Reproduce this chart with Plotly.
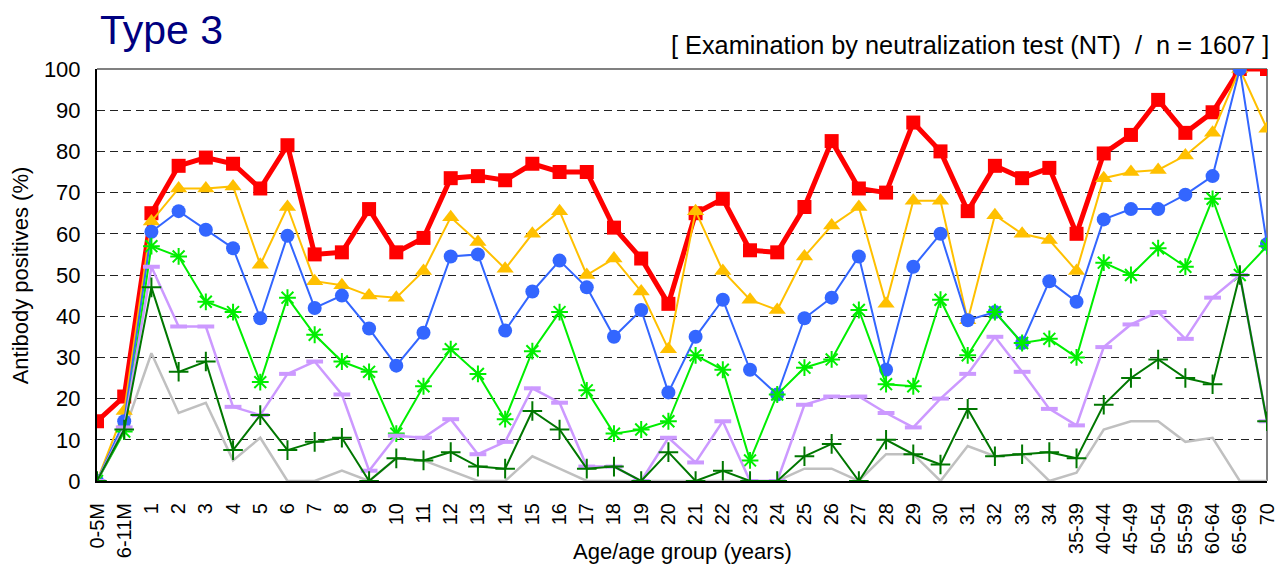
import plotly.graph_objects as go

categories = ["0-5M", "6-11M"] + [str(i) for i in range(1, 35)] + [
    "35-39", "40-44", "45-49", "50-54", "55-59", "60-64", "65-69", "70"]

red = [14.5, 20.5, 65, 76.5, 78.5, 77, 71, 81.5, 55, 55.5, 66, 55.5, 59, 73.5, 74, 73,
       77, 75, 75, 61.5, 54, 43, 65, 68.5, 56, 55.5, 66.5, 82.5, 71, 70, 87, 80, 65.5,
       76.5, 73.5, 76, 60, 79.5, 84, 92.5, 84.5, 89.5, 100, 100]
yellow = [0, 17, 63, 71, 71, 71.5, 52.5, 66.5, 48.5, 47.5, 45, 44.5, 51, 64, 58, 51.5,
          60, 65.5, 50, 54, 46, 32, 65.5, 51, 44, 41.5, 54.5, 62, 66.5, 43, 68, 68, 39,
          64.5, 60, 58.5, 51, 73.5, 75, 75.5, 79, 84.5, 100, 85.5]
blue = [0, 14.5, 60.5, 65.5, 61, 56.5, 39.5, 59.5, 42, 45, 37, 28, 36, 54.5, 55, 36.5,
        46, 53.5, 47, 35, 41.5, 21.5, 35, 44, 27, 21, 39.5, 44.5, 54.5, 27, 52, 60, 39,
        41, 33.5, 48.5, 43.5, 63.5, 66, 66, 69.5, 74, 100, 57.5]
green = [0, 12, 57, 54.5, 43.5, 41, 24, 44.5, 35.5, 29, 26.5, 11.5, 23, 32, 26, 15,
         31.5, 41, 22, 11.5, 12.5, 14.5, 30.5, 27, 5, 21, 27.5, 29.5, 41.5, 23.5, 23, 44,
         30.5, 41, 33.5, 34.5, 30, 53, 50, 56.5, 52, 68.5, 50, 57]
purple = [0, 13, 52, 37.5, 37.5, 18, 16, 26, 29, 21, 2.5, 11, 10.5, 15, 6.5, 9.5,
          22.5, 19, 3.5, 3.5, 0, 10.5, 4.5, 14.5, 0, 0, 18.5, 20.5, 20.5, 16.5, 13, 20,
          26, 35, 26.5, 17.5, 13.5, 32.5, 38, 41, 34.5, 44.5, 50, 14.5]
darkgreen = [0, 12.5, 47, 26.5, 29, 7.5, 16, 7.5, 9.5, 10.5, 0, 5.5, 5, 7, 3.5, 3,
             17, 12.5, 3, 3.5, 0, 7, 0, 2.5, 0, 0, 6, 9, 0, 10, 6.5, 4, 17.5, 6, 6.5, 7,
             5.5, 18.5, 25, 29.5, 25, 23.5, 50, 14.5]
grey = [0, 12, 31, 16.5, 19, 5, 10.5, 0, 0, 2.5, 0, 5.5, 5, 2.5, 0, 0, 6, 3, 0, 0, 0,
        0, 0, 0, 0, 0, 3, 3, 0, 6.5, 6.5, 0, 8.5, 6, 6.5, 0, 2, 12.5, 14.5, 14.5, 9.5,
        10.5, 0, 0]

x = list(range(len(categories)))

fig = go.Figure()
fig.add_trace(go.Scatter(x=x, y=grey, mode="lines", line=dict(color="#c0c0c0", width=2.5)))
fig.add_trace(go.Scatter(x=x, y=red, mode="lines+markers", line=dict(color="#ff0000", width=5),
                         marker=dict(symbol="square", size=14, color="#ff0000")))
fig.add_trace(go.Scatter(x=x, y=yellow, mode="lines+markers", line=dict(color="#ffc000", width=2),
                         marker=dict(symbol="triangle-up", size=15, color="#ffc000")))
fig.add_trace(go.Scatter(x=x, y=blue, mode="lines+markers", line=dict(color="#3366ff", width=2),
                         marker=dict(symbol="circle", size=14, color="#3366ff")))
fig.add_trace(go.Scatter(x=x, y=green, mode="lines+markers", line=dict(color="#00ee00", width=2),
                         marker=dict(symbol="asterisk-open", size=14, color="#00ee00",
                                     line=dict(color="#00ee00", width=2))))
fig.add_trace(go.Scatter(x=x, y=purple, mode="lines+markers", line=dict(color="#cc99ff", width=2.5),
                         marker=dict(symbol="line-ew-open", size=12, color="#cc99ff",
                                     line=dict(color="#cc99ff", width=4))))
fig.add_trace(go.Scatter(x=x, y=darkgreen, mode="lines+markers", line=dict(color="#007700", width=2),
                         marker=dict(symbol="cross-thin-open", size=14, color="#007700",
                                     line=dict(color="#007700", width=2))))

font_family = "Liberation Sans, Arial, sans-serif"
fig.update_layout(
    width=1279, height=570,
    margin=dict(l=97, r=12, t=69, b=89),
    paper_bgcolor="white", plot_bgcolor="white",
    showlegend=False,
    font=dict(family=font_family, color="black", size=20),
    xaxis=dict(
        range=[0, len(categories) - 1],
        tickmode="array", tickvals=x, ticktext=categories,
        tickangle=-90, tickfont=dict(size=20),
        showgrid=False, zeroline=False, automargin=False,
        showline=True, linecolor="black", linewidth=2, mirror=False,
        ticks="", ticklabelstandoff=12, ticklabeloverflow="allow",
    ),
    yaxis=dict(
        range=[0, 100], tickmode="array", tickvals=list(range(0, 101, 10)),
        tickfont=dict(size=22), automargin=False,
        showgrid=True, gridcolor="#222222", gridwidth=1, griddash="8px,5px",
        zeroline=False, showline=True, linecolor="black", linewidth=2,
        ticks="", ticklen=0, ticklabelstandoff=10,
    ),
    shapes=[
        dict(type="line", xref="paper", yref="paper", x0=0, x1=1, y0=1, y1=1,
             line=dict(color="#808080", width=2), layer="below"),
        dict(type="line", xref="paper", yref="paper", x0=1, x1=1, y0=0, y1=1,
             line=dict(color="#808080", width=2), layer="below"),
    ],
    annotations=[
        dict(text="Type 3", xref="paper", yref="paper", x=0.001, y=1.0947,
             xanchor="left", yanchor="middle", showarrow=False,
             font=dict(size=41, color="#000080", family=font_family)),
        dict(text="[ Examination by neutralization test (NT)  /  n = 1607 ]",
             xref="paper", yref="paper", x=1.0, y=1.058, xshift=4,
             xanchor="right", yanchor="middle", showarrow=False,
             font=dict(size=25.3, color="black", family=font_family)),
        dict(text="Age/age group (years)", xref="paper", yref="paper", x=0.5, y=-0.172,
             xanchor="center", yanchor="middle", showarrow=False,
             font=dict(size=22, family=font_family)),
        dict(text="Antibody positives (%)", xref="paper", yref="paper", x=-0.0655, y=0.5,
             xanchor="center", yanchor="middle", showarrow=False, textangle=-90,
             font=dict(size=22, family=font_family)),
    ],
)

fig.write_html("out.html", config={"displayModeBar": False},
               post_script="document.body.style.margin='0';")
